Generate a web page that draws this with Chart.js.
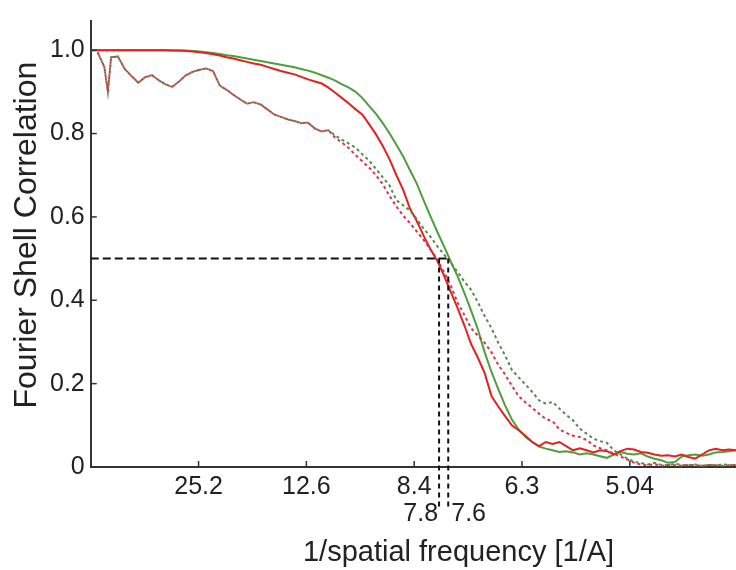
<!DOCTYPE html>
<html>
<head>
<meta charset="utf-8">
<script src="https://cdn.jsdelivr.net/npm/chart.js@4.4.1/dist/chart.umd.min.js"></script>
<style>
  html, body { margin: 0; padding: 0; background: #fff; }
  #wrap { width: 736px; height: 570px; }
</style>
</head>
<body>
<div id="wrap"><canvas id="fsc"></canvas></div>
<script>
// spatial frequency [1/A]
const freq = [
  0, 0.0025, 0.005, 0.0063, 0.0075, 0.01, 0.0125, 0.015, 0.0175, 0.02,
  0.0225, 0.025, 0.0275, 0.03, 0.0325, 0.035, 0.0375, 0.04, 0.0425, 0.045,
  0.0475, 0.05, 0.0525, 0.055, 0.0575, 0.06, 0.0625, 0.065, 0.0675, 0.07,
  0.0725, 0.075, 0.0775, 0.08, 0.0825, 0.085, 0.0875, 0.09, 0.0925, 0.095,
  0.0975, 0.1, 0.1025, 0.105, 0.1075, 0.11, 0.1125, 0.115, 0.1175, 0.12,
  0.1225, 0.125, 0.1275, 0.13, 0.1325, 0.135, 0.1375, 0.14, 0.1425, 0.145,
  0.1475, 0.15, 0.1525, 0.155, 0.1575, 0.16, 0.1625, 0.165, 0.1675, 0.17,
  0.1725, 0.175, 0.1775, 0.18, 0.1825, 0.185, 0.1875, 0.19, 0.1925, 0.195,
  0.1975, 0.2, 0.2025, 0.205, 0.2075, 0.21, 0.2125, 0.215, 0.2175, 0.22,
  0.2225, 0.225, 0.2275, 0.23, 0.2325, 0.235, 0.2375
]

const greenSolid = [
  1.0, 1.0, 1.0, 1.0, 1.0, 1.0, 1.0, 1.0, 1.0, 1.0,
  1.0, 1.0, 1.0, 0.999, 0.999, 0.999, 0.998, 0.997, 0.995, 0.993,
  0.991, 0.988, 0.986, 0.983, 0.980, 0.977, 0.974, 0.971, 0.968, 0.965,
  0.962, 0.959, 0.955, 0.951, 0.946, 0.940, 0.934, 0.927, 0.918, 0.910,
  0.900, 0.885, 0.866, 0.847, 0.825, 0.800, 0.773, 0.745, 0.712, 0.680,
  0.640, 0.602, 0.565, 0.530, 0.493, 0.458, 0.418, 0.375, 0.330, 0.275,
  0.228, 0.187, 0.148, 0.114, 0.090, 0.072, 0.060, 0.049, 0.044, 0.040,
  0.036, 0.038, 0.035, 0.030, 0.033, 0.030, 0.026, 0.022, 0.030, 0.036,
  0.032, 0.030, 0.033, 0.025, 0.020, 0.016, 0.010, 0.012, 0.025, 0.028,
  0.030, 0.027, 0.030, 0.035, 0.036, 0.038, 0.040
]

const redSolid = [
  1.0, 1.0, 1.0, 1.0, 1.0, 1.0, 1.0, 1.0, 1.0, 1.0,
  1.0, 1.0, 1.0, 0.999, 0.999, 0.998, 0.997, 0.995, 0.993, 0.990,
  0.987, 0.983, 0.980, 0.976, 0.972, 0.968, 0.965, 0.960, 0.955, 0.950,
  0.946, 0.942, 0.936, 0.930, 0.925, 0.920, 0.910, 0.898, 0.885, 0.872,
  0.858, 0.845, 0.822, 0.798, 0.770, 0.738, 0.700, 0.665, 0.620, 0.590,
  0.555, 0.523, 0.495, 0.460, 0.420, 0.382, 0.340, 0.295, 0.262, 0.225,
  0.170, 0.145, 0.122, 0.100, 0.088, 0.075, 0.060, 0.050, 0.060, 0.055,
  0.060, 0.050, 0.040, 0.045, 0.040, 0.035, 0.040, 0.038, 0.030, 0.038,
  0.044, 0.042, 0.036, 0.034, 0.030, 0.027, 0.028, 0.025, 0.030, 0.024,
  0.020, 0.030, 0.040, 0.044, 0.040, 0.042, 0.040
]

const greenDotted = [
  null, 0.995, 0.960, 0.900, 0.983, 0.985, 0.955, 0.938, 0.922, 0.935,
  0.940, 0.928, 0.918, 0.912, 0.925, 0.940, 0.948, 0.953, 0.956, 0.950,
  0.915, 0.905, 0.893, 0.882, 0.872, 0.875, 0.870, 0.858, 0.846, 0.840,
  0.834, 0.830, 0.825, 0.826, 0.812, 0.805, 0.808, 0.795, 0.785, 0.776,
  0.766, 0.750, 0.735, 0.715, 0.695, 0.675, 0.640, 0.628, 0.615, 0.595,
  0.572, 0.553, 0.530, 0.510, 0.490, 0.468, 0.445, 0.425, 0.395, 0.362,
  0.333, 0.298, 0.268, 0.233, 0.215, 0.198, 0.180, 0.160, 0.152, 0.156,
  0.140, 0.125, 0.112, 0.092, 0.080, 0.068, 0.062, 0.058, 0.040, 0.030,
  0.020, 0.012, 0.010, 0.006, 0.010, 0.005, 0.004, 0.008, 0.005, 0.004,
  0.006, 0.003, 0.005, 0.004, 0.006, 0.005, 0.004
]

const redDotted = [
  null, 0.995, 0.960, 0.900, 0.983, 0.985, 0.955, 0.938, 0.922, 0.935,
  0.940, 0.928, 0.918, 0.912, 0.925, 0.940, 0.948, 0.953, 0.956, 0.950,
  0.915, 0.905, 0.893, 0.882, 0.872, 0.875, 0.870, 0.858, 0.846, 0.840,
  0.834, 0.830, 0.825, 0.826, 0.812, 0.805, 0.808, 0.790, 0.778, 0.765,
  0.748, 0.733, 0.718, 0.700, 0.678, 0.650, 0.625, 0.603, 0.585, 0.565,
  0.545, 0.522, 0.498, 0.468, 0.435, 0.395, 0.365, 0.333, 0.315, 0.298,
  0.275, 0.245, 0.222, 0.195, 0.170, 0.155, 0.142, 0.128, 0.115, 0.110,
  0.090, 0.082, 0.075, 0.072, 0.065, 0.052, 0.045, 0.040, 0.032, 0.025,
  0.018, 0.010, 0.006, 0.004, 0.007, 0.003, 0.005, 0.004, 0.003, 0.005,
  0.004, 0.003, 0.005, 0.004, 0.003, 0.004, 0.005
]

// resolution ticks (A) and FSC ticks
const xTickLabels = ['25.2', '12.6', '8.4', '6.3', '5.04']
const yTickValues = [0, 0.2, 0.4, 0.6, 0.8, 1.0]
// resolutions where the curves cross the threshold
const cutoffLabels = ['7.8', '7.6']
const threshold = 0.5

const xTitle = '1/spatial frequency [1/A]'
const yTitle = 'Fourier Shell Correlation'

const FONT = '"Liberation Sans", Arial, sans-serif'
const TEXT = '#222'
const AXIS = '#333'

const pts = arr => freq.map((f, i) => ({ x: f, y: arr[i] }))
const cutoffFreq = cutoffLabels.map(s => 1 / parseFloat(s))

const curve = (data, color, dash, offset) => ({
  data: pts(data),
  borderColor: color,
  borderWidth: 2,
  borderDash: dash,
  borderDashOffset: offset,
  pointRadius: 0,
  tension: 0
})

const guide = (data, dash) => ({
  data: data,
  borderColor: '#111',
  borderWidth: 2,
  borderDash: dash,
  pointRadius: 0,
  clip: false
})

// inward tick marks, the cutoff labels under the axis and the two axis titles
// (titles are placed off-centre like in the original figure)
const extras = {
  id: 'extras',
  afterDraw (chart) {
    const { ctx, chartArea, scales: { x, y } } = chart
    ctx.save()
    ctx.strokeStyle = AXIS
    ctx.lineWidth = 1.5
    x.ticks.forEach(t => {
      const px = x.getPixelForValue(t.value)
      ctx.beginPath()
      ctx.moveTo(px, chartArea.bottom)
      ctx.lineTo(px, chartArea.bottom - 6)
      ctx.stroke()
    })
    y.ticks.forEach(t => {
      const py = y.getPixelForValue(t.value)
      ctx.beginPath()
      ctx.moveTo(chartArea.left, py)
      ctx.lineTo(chartArea.left + 6, py)
      ctx.stroke()
    })

    ctx.fillStyle = TEXT
    ctx.font = '25px ' + FONT
    ctx.textBaseline = 'middle'
    const ly = chartArea.bottom + 47
    ctx.textAlign = 'right'
    ctx.fillText(cutoffLabels[0], x.getPixelForValue(cutoffFreq[0]) - 1, ly)
    ctx.textAlign = 'left'
    ctx.fillText(cutoffLabels[1], x.getPixelForValue(cutoffFreq[1]) + 3, ly)

    ctx.textAlign = 'center'
    ctx.font = '29px ' + FONT
    ctx.fillText(xTitle, chartArea.left + chartArea.width * 0.57, chartArea.bottom + 86)

    ctx.font = '32px ' + FONT
    ctx.translate(chartArea.left - 64, chartArea.top + chartArea.height * 0.48)
    ctx.rotate(-Math.PI / 2)
    ctx.fillText(yTitle, 0, 0)
    ctx.restore()
  }
}

new Chart(document.getElementById('fsc'), {
  type: 'line',
  data: {
    datasets: [
      guide([{ x: 0, y: threshold }, { x: cutoffFreq[1], y: threshold }], [8, 4]),
      guide([{ x: cutoffFreq[0], y: threshold }, { x: cutoffFreq[0], y: -0.095 }], [5, 4]),
      guide([{ x: cutoffFreq[1], y: threshold }, { x: cutoffFreq[1], y: -0.095 }], [5, 4]),
      curve(redDotted, '#d8354a', [3, 3], 0),
      curve(greenDotted, '#5a8a4a', [3, 3], 3),
      curve(redSolid, '#e3221e', [], 0),
      curve(greenSolid, '#4f9e3e', [], 0)
    ]
  },
  options: {
    responsive: true,
    maintainAspectRatio: false,
    animation: false,
    layout: { padding: { top: 15, left: 44, right: 0, bottom: 63 } },
    plugins: { legend: { display: false }, tooltip: { enabled: false } },
    scales: {
      x: {
        type: 'linear',
        min: 0,
        max: 0.2375,
        afterBuildTicks: axis => {
          axis.ticks = xTickLabels.map(s => ({ value: 1 / parseFloat(s) }))
        },
        grid: { display: false, drawTicks: false },
        border: { display: true, color: AXIS, width: 2 },
        ticks: {
          autoSkip: false,
          maxRotation: 0,
          padding: 5,
          color: TEXT,
          font: { family: FONT, size: 25 },
          callback: (value, index) => xTickLabels[index]
        }
      },
      y: {
        min: 0,
        max: 1.07,
        afterBuildTicks: axis => {
          axis.ticks = yTickValues.map(v => ({ value: v }))
        },
        grid: { display: false, drawTicks: false },
        border: { display: true, color: AXIS, width: 2 },
        ticks: {
          padding: 6,
          color: TEXT,
          font: { family: FONT, size: 25 },
          callback: v => (v === 0 ? '0' : v.toFixed(1))
        }
      }
    }
  },
  plugins: [extras]
})
</script>
</body>
</html>
